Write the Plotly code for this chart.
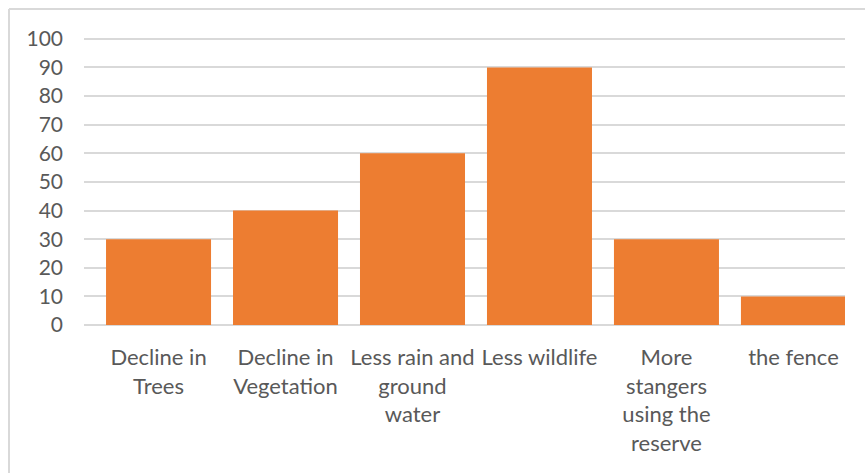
import plotly.graph_objects as go

# Category labels (line breaks as shown under the axis)
categories = [
    "Decline in<br>Trees",
    "Decline in<br>Vegetation",
    "Less rain and<br>ground<br>water",
    "Less wildlife",
    "More<br>stangers<br>using the<br>reserve",
    "the fence",
]
values = [30, 40, 60, 90, 30, 10]
y_ticks = list(range(0, 101, 10))

BAR_COLOR = "#ED7D31"
GRID_COLOR = "#D9D9D9"
TEXT_COLOR = "#595959"
FONT = "Lato, 'Open Sans', sans-serif"

W, H = 865, 473
ML, MR, MT, MB = 84, 20, 36, 148

positions = list(range(len(categories)))

fig = go.Figure(
    go.Bar(
        x=positions,
        y=values,
        width=0.827,
        marker=dict(color=BAR_COLOR, line=dict(width=0)),
        hoverinfo="skip",
    )
)

plot_w = W - ML - MR
plot_h = H - MT - MB
# chart frame: thin gray border along the top and left
fx = (9 - ML) / plot_w
fy = (H - MB - 9) / plot_h
frame = dict(color=GRID_COLOR, width=2)
fig.add_shape(type="line", xref="paper", yref="paper", x0=fx, y0=fy, x1=1.2, y1=fy, line=frame)
fig.add_shape(type="line", xref="paper", yref="paper", x0=fx, y0=fy, x1=fx, y1=-1.0, line=frame)

fig.update_layout(
    width=W,
    height=H,
    margin=dict(l=ML, r=MR, t=MT, b=MB),
    paper_bgcolor="white",
    plot_bgcolor="white",
    showlegend=False,
    font=dict(family=FONT, size=22, color=TEXT_COLOR),
    xaxis=dict(
        tickmode="array",
        tickvals=positions,
        ticktext=categories,
        range=[-0.587, 5.406],
        showgrid=False,
        showline=False,
        zeroline=False,
        ticks="",
        ticklabelstandoff=17,
        tickangle=0,
        tickfont=dict(family=FONT, size=22, color=TEXT_COLOR),
    ),
    yaxis=dict(
        range=[0, 101],
        tickmode="array",
        tickvals=y_ticks,
        ticktext=[str(v) for v in y_ticks],
        showgrid=True,
        gridcolor=GRID_COLOR,
        gridwidth=1.5,
        zeroline=True,
        zerolinecolor=GRID_COLOR,
        zerolinewidth=2,
        showline=False,
        ticks="",
        ticklabelstandoff=20,
        tickfont=dict(family=FONT, size=21, color=TEXT_COLOR),
    ),
)

fig.write_html("out.html")
